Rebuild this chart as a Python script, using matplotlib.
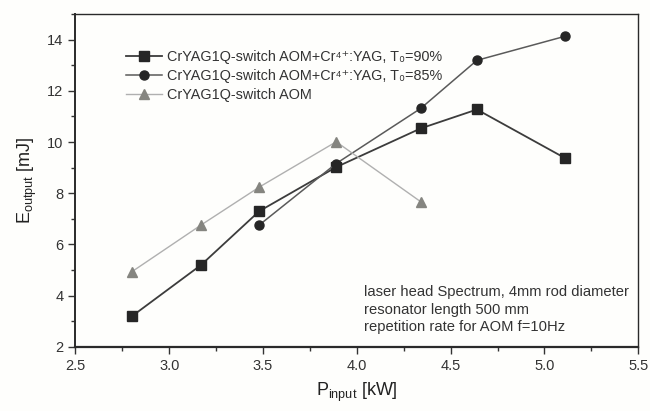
import matplotlib.pyplot as plt
from matplotlib.ticker import MultipleLocator

plt.rcParams['font.family'] = ['Liberation Sans', 'DejaVu Sans']
plt.rcParams['mathtext.fontset'] = 'custom'
plt.rcParams['mathtext.rm'] = 'Liberation Sans'
plt.rcParams['mathtext.it'] = 'Liberation Sans'

# T0=90% series
p_sq = [2.80, 3.17, 3.48, 3.89, 4.34, 4.64, 5.11]
e_sq = [3.19, 5.20, 7.30, 9.02, 10.53, 11.27, 9.37]
# T0=85% series
p_ci = [3.48, 3.89, 4.34, 4.64, 5.11]
e_ci = [6.76, 9.16, 11.31, 13.19, 14.13]
# AOM only
p_tr = [2.80, 3.17, 3.48, 3.89, 4.34]
e_tr = [4.93, 6.76, 8.24, 10.01, 7.67]

lab_sq = 'CrYAG1Q-switch AOM+Cr⁴⁺:YAG, T₀=90%'
lab_ci = 'CrYAG1Q-switch AOM+Cr⁴⁺:YAG, T₀=85%'
lab_tr = 'CrYAG1Q-switch AOM'

note = ('laser head Spectrum, 4mm rod diameter\n'
        'resonator length 500 mm\n'
        'repetition rate for AOM f=10Hz')

fig = plt.figure(figsize=(6.5, 4.11), dpi=100)
fig.patch.set_facecolor('#fefefc')
ax = fig.add_axes([0.116, 0.156, 0.866, 0.81])
ax.set_facecolor('#fefefc')

ax.plot(p_sq, e_sq, color='#3c3c3c', lw=1.3, marker='s', ms=6.5,
        mfc='#262626', mec='#262626', label=lab_sq)
ax.plot(p_ci, e_ci, color='#5a5a5a', lw=1.1, marker='o', ms=6.5,
        mfc='#262626', mec='#262626', label=lab_ci)
ax.plot(p_tr, e_tr, color='#b0b0b0', lw=1.0, marker='^', ms=6.5,
        mfc='#858580', mec='#858580', label=lab_tr)

ax.set_xlim(2.5, 5.5)
ax.set_ylim(2, 15)
ax.xaxis.set_major_locator(MultipleLocator(0.5))
ax.xaxis.set_minor_locator(MultipleLocator(0.25))
ax.yaxis.set_major_locator(MultipleLocator(2))
ax.yaxis.set_minor_locator(MultipleLocator(1))
ax.tick_params(which='both', direction='out', top=False, right=False,
               labelsize=10.5, colors='#333333', width=1.0)
ax.tick_params(which='major', length=5)
ax.tick_params(which='minor', length=3)
for s in ax.spines.values():
    s.set_color('#2a2a2a')
    s.set_linewidth(1.0)
ax.spines['bottom'].set_linewidth(1.6)
ax.spines['left'].set_linewidth(1.4)

ax.set_xlabel(r'P$_{\mathrm{input}}$ [kW]', fontsize=13, color='#222222', labelpad=6)
ax.set_ylabel(r'E$_{\mathrm{output}}$ [mJ]', fontsize=13, color='#222222', labelpad=6)

leg = ax.legend(loc='upper left', bbox_to_anchor=(0.08, 0.91), frameon=False,
                fontsize=10.4, handlelength=2.5, handletextpad=0.35,
                labelspacing=0.35, borderaxespad=0)
for t in leg.get_texts():
    t.set_color('#333333')

ax.text(0.512, 0.185, note, transform=ax.transAxes, fontsize=10.6,
        color='#333333', va='top', ha='left', linespacing=1.3)

fig.savefig('out.png', dpi=100, facecolor=fig.get_facecolor())
